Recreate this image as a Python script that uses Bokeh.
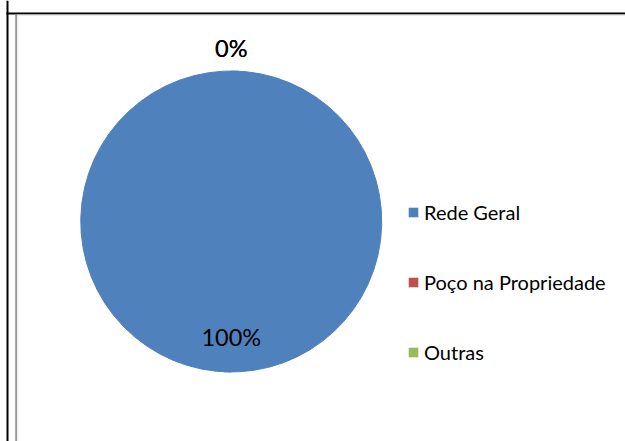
import math
from bokeh.plotting import figure
from bokeh.models import Range1d, Legend, LegendItem
from bokeh.core.properties import value
from bokeh.embed import file_html
from bokeh.resources import INLINE

categories = ["Rede Geral", "Poço na Propriedade", "Outras"]
values = [100, 0, 0]
colors = ["#4F81BD", "#C0504D", "#9BBB59"]

W, H = 625, 441
FONT = "Lato"
NAN = float("nan")

p = figure(width=W, height=H, output_backend="svg", toolbar_location=None,
           x_range=Range1d(0, W), y_range=Range1d(0, H),
           min_border=0, outline_line_color=None)
p.axis.visible = False
p.grid.visible = False
p.background_fill_color = "white"
p.border_fill_color = "white"

# frame lines (decoration)
p.segment(x0=[7], y0=[0], x1=[7], y1=[H], line_color="black", line_width=2)
p.segment(x0=[6], y0=[H - 13], x1=[W], y1=[H - 13], line_color="black", line_width=2)
p.segment(x0=[15.7], y0=[0], x1=[15.7], y1=[H - 14], line_color="#999999", line_width=2)
p.segment(x0=[16.5], y0=[H - 14.5], x1=[W], y1=[H - 14.5], line_color="#d4d4d4", line_width=1)

cx, cy, r = 230.75, H - 221, 150.5
total = sum(values)
starts, ends, mids, fracs, labels = [], [], [], [], []
acc = 0.0
for v in values:
    frac = v / total
    a0 = math.pi / 2 - 2 * math.pi * acc
    a1 = math.pi / 2 - 2 * math.pi * (acc + frac)
    starts.append(a0)
    ends.append(a1)
    mids.append((a0 + a1) / 2)
    fracs.append(frac)
    labels.append(f"{round(frac * 100)}%")
    acc += frac

# each slice drawn as two halves; a full-circle slice gets overlapping halves
# so that no seam is visible
for i in range(3):
    if values[i] > 0:
        ov = 0.05 if fracs[i] >= 0.999 else 0.0
        p.wedge(x=[cx, cx], y=[cy, cy], radius=r, radius_units="screen",
                start_angle=[starts[i], mids[i]],
                end_angle=[mids[i] - ov, ends[i] - ov],
                direction="clock", fill_color=colors[i],
                line_color=colors[i], line_width=1)

# legend proxies (not drawn in the plot: NaN coordinates)
proxies = []
for i in range(3):
    q = p.quad(left=[NAN], right=[NAN], top=[NAN], bottom=[NAN],
               fill_color=colors[i], line_color=None)
    proxies.append(q)

# data labels
lx, ly, lt = [], [], []
for i, v in enumerate(values):
    d = 0.77 * r if v > 0 else 1.15 * r
    lx.append(cx + d * math.cos(mids[i]))
    ly.append(cy + d * math.sin(mids[i]))
    lt.append(labels[i])
p.text(x=lx, y=ly, text=lt, text_align="center", text_baseline="middle",
       text_font=value(FONT), text_font_size="23.5px", text_color="black")

# legend
items = [LegendItem(label=categories[i], renderers=[proxies[i]]) for i in range(3)]
legend = Legend(items=items, location=(407, 77), padding=0, margin=0,
                border_line_color=None, background_fill_alpha=0,
                glyph_width=12, glyph_height=12, label_height=24,
                spacing=46, label_standoff=5,
                label_text_font=FONT, label_text_font_size="20px",
                label_text_color="black")
p.add_layout(legend)

open("out.html", "w").write(file_html(p, INLINE))
